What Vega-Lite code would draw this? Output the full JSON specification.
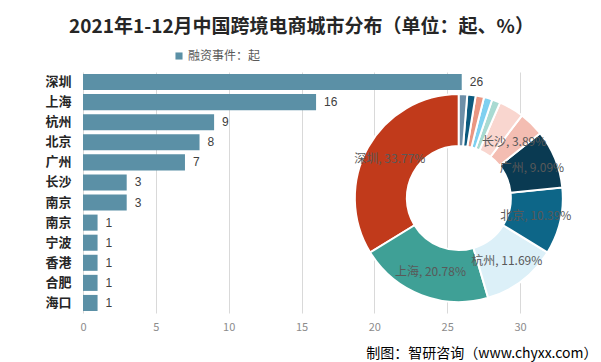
{
  "$schema": "https://vega.github.io/schema/vega-lite/v6.json",
  "width": 437,
  "height": 241,
  "autosize": {"type": "none"},
  "padding": {"left": 83, "top": 72, "right": 81, "bottom": 49},
  "background": "white",
  "title": {
    "text": "2021年1-12月中国跨境电商城市分布（单位：起、%）",
    "font": "Noto Sans CJK SC",
    "fontSize": 19,
    "fontWeight": "bold",
    "color": "#262626",
    "anchor": "middle",
    "offset": 13
  },
  "config": {
    "view": {"stroke": null},
    "font": "Noto Sans CJK SC"
  },
  "data": {
    "values": [
      {"city": "深圳", "value": 26, "rank": 1, "label": "深圳, 33.77%"},
      {"city": "上海", "value": 16, "rank": 2, "label": "上海, 20.78%"},
      {"city": "杭州", "value": 9, "rank": 3, "label": "杭州, 11.69%"},
      {"city": "北京", "value": 8, "rank": 4, "label": "北京, 10.39%"},
      {"city": "广州", "value": 7, "rank": 5, "label": "广州, 9.09%"},
      {"city": "长沙", "value": 3, "rank": 6, "label": "长沙, 3.89%"},
      {"city": "南京", "value": 3, "rank": 7, "label": ""},
      {"city": "南京\u200b", "value": 1, "rank": 8, "label": ""},
      {"city": "宁波", "value": 1, "rank": 9, "label": ""},
      {"city": "香港", "value": 1, "rank": 10, "label": ""},
      {"city": "合肥", "value": 1, "rank": 11, "label": ""},
      {"city": "海口", "value": 1, "rank": 12, "label": ""}
    ]
  },
  "resolve": {
    "scale": {"x": "independent", "y": "independent", "color": "independent"},
    "axis": {"x": "independent", "y": "independent"}
  },
  "layer": [
    {
      "encoding": {
        "y": {
          "field": "city",
          "type": "nominal",
          "sort": null,
          "scale": {"paddingInner": 0.2, "paddingOuter": 0.1},
          "axis": {
            "title": null,
            "domain": false,
            "ticks": false,
            "labelFontSize": 13,
            "labelFontWeight": "bold",
            "labelColor": "#262626",
            "labelPadding": 12
          }
        },
        "x": {
          "field": "value",
          "type": "quantitative",
          "scale": {"domain": [0, 30]},
          "axis": {
            "values": [0, 5, 10, 15, 20, 25, 30],
            "labelFlush": false,
            "title": "制图：智研咨询（www.chyxx.com）",
            "titleFontSize": 14,
            "titleFontWeight": "normal",
            "titleColor": "#000000",
            "titleAlign": "right",
            "titleAnchor": "end",
            "titleX": 514,
            "titleY": 44,
            "titleBaseline": "alphabetic",
            "domain": false,
            "ticks": false,
            "grid": true,
            "gridColor": "#D9D9D9",
            "labelFontSize": 11,
            "labelColor": "#8C8C8C",
            "labelPadding": 8
          }
        }
      },
      "layer": [
        {
          "mark": {"type": "bar"},
          "encoding": {
            "color": {
              "datum": "融资事件：起",
              "type": "nominal",
              "scale": {"range": ["#5B90A6"]},
              "legend": {
                "title": null,
                "orient": "none",
                "legendX": 90,
                "legendY": -22,
                "symbolType": "square",
                "symbolSize": 50,
                "labelFontSize": 12,
                "labelColor": "#595959",
                "labelOffset": 3
              }
            }
          }
        },
        {
          "mark": {"type": "text", "align": "left", "dx": 8, "fontSize": 12, "color": "#404040", "font": "Liberation Sans"},
          "encoding": {"text": {"field": "value", "type": "quantitative"}}
        }
      ]
    },
    {
      "encoding": {
        "x": {"datum": 0.86, "type": "quantitative", "scale": {"domain": [0, 1]}, "axis": null},
        "y": {"datum": 0.477, "type": "quantitative", "scale": {"domain": [0, 1]}, "axis": null},
        "theta": {"field": "value", "type": "quantitative", "stack": true},
        "order": {"field": "rank", "sort": "descending"}
      },
      "layer": [
        {
          "mark": {"type": "arc", "outerRadius": 104, "innerRadius": 52, "stroke": "white", "strokeWidth": 2},
          "encoding": {
            "color": {
              "field": "city",
              "type": "nominal",
              "scale": {
                "domain": ["深圳", "上海", "杭州", "北京", "广州", "长沙", "南京", "南京\u200b", "宁波", "香港", "合肥", "海口"],
                "range": ["#C13A1B", "#3FA096", "#DCF0F8", "#0D6688", "#0A3A52", "#F4BDB2", "#F9D6CF", "#A8DAD2", "#7ED0F0", "#E99682", "#0C5A7E", "#6D8FA8"]
              },
              "legend": null
            }
          }
        },
        {
          "mark": {"type": "text", "radius": 79, "fontSize": 12, "color": "#595959"},
          "encoding": {"text": {"field": "label", "type": "nominal"}}
        }
      ]
    }
  ]
}
